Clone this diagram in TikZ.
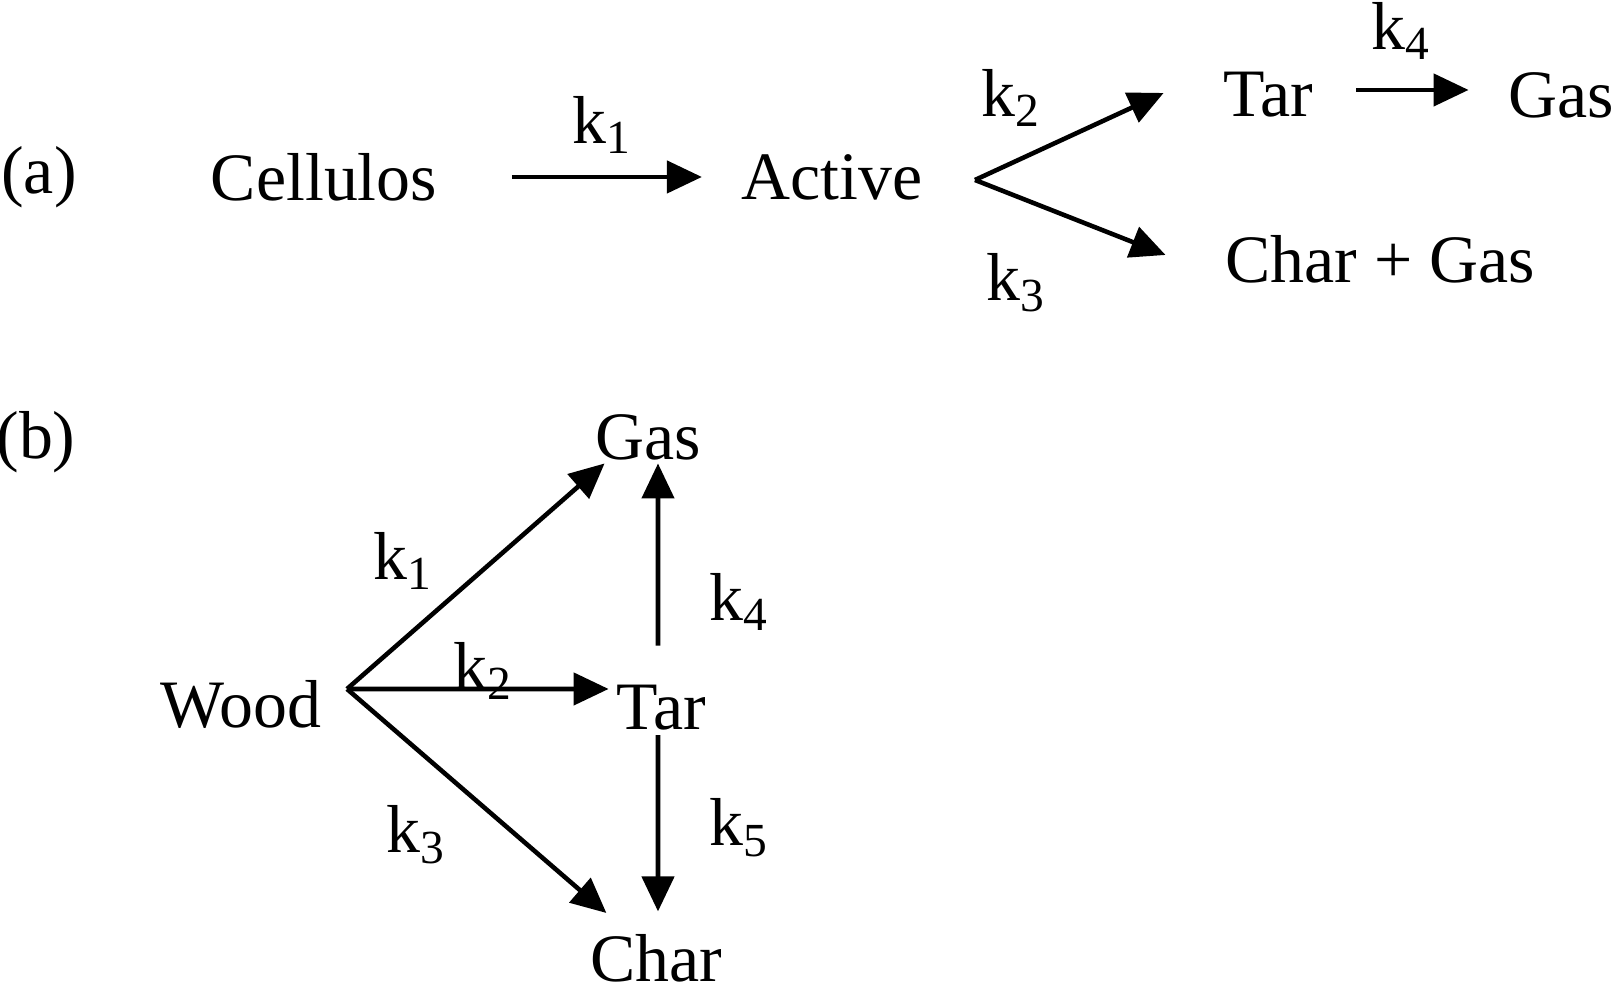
\documentclass[tikz,border=0pt]{standalone}
\usepackage{fontspec}
\setmainfont{Liberation Serif}
\usetikzlibrary{arrows.meta,positioning,calc}
\tikzset{
  arr/.style={-{Triangle[length=3.5mm,width=3.2mm]}, line width=1.3pt, black},
  spec/.style={inner sep=0pt, font=\fontsize{19.3}{23}\selectfont},
  rate/.style={inner sep=0pt, font=\fontsize{19.3}{23}\selectfont},
  tag/.style={inner sep=0pt, font=\fontsize{19.3}{23}\selectfont}
}

\begin{document}
\begin{tikzpicture}[x=1cm,y=1cm]
  \useasboundingbox (0,0) rectangle (16.13,10);
  % (a) cellulose scheme
  \node[tag] (taga) at (0.39,8.23) {(a)};
  \node[spec] (cell) at (3.24,8.23) {Cellulos};
  \node[spec] (act) at (8.32,8.23) {Active};
  \node[spec] (tara) at (12.68,9.05) {Tar};
  \node[spec] (gasa) at (15.61,9.05) {Gas};
  \node[spec] (chga) at (13.80,7.41) {Char + Gas};
  \coordinate (afork) at (9.75,8.20);
  \draw[arr] ([xshift=7.4mm]cell.east) -- ([xshift=-3.9mm]act.west);
  \draw[arr] (afork) -- ([xshift=-5.9mm,yshift=0.2mm]tara.west);
  \draw[arr] (afork) -- ([xshift=-5.9mm,yshift=0.4mm]chga.west);
  \draw[arr] ([xshift=4.3mm,yshift=0.5mm]tara.east) -- ([xshift=-3.9mm,yshift=0.5mm]gasa.west);
  \node[rate] (ka1) at (6.02,8.75) {k\textsubscript{1}};
  \node[rate] (ka2) at (10.11,9.02) {k\textsubscript{2}};
  \node[rate] (ka3) at (10.16,7.17) {k\textsubscript{3}};
  \node[rate] (ka4) at (14.01,9.69) {k\textsubscript{4}};
  % (b) wood scheme
  \node[tag] (tagb) at (0.36,5.58) {(b)};
  \node[spec] (wood) at (2.41,2.95) {Wood};
  \node[spec] (gasb) at (6.48,5.63) {Gas};
  \node[spec] (tarb) at (6.61,2.92) {Tar};
  \node[spec] (charb) at (6.56,0.42) {Char};
  \coordinate (bfork) at (3.47,3.11);
  \draw[arr] (bfork) -- ([xshift=1mm,yshift=-0.3mm]gasb.south west);
  \draw[arr] (bfork) -- ([xshift=-0.7mm,yshift=1.9mm]tarb.west);
  \draw[arr] (bfork) -- ([xshift=1.7mm,yshift=4.5mm]charb.west);
  \draw[arr] ([xshift=-0.3mm,yshift=3.9mm]tarb.north) -- ([xshift=1mm,yshift=-0.3mm]gasb.south);
  \draw[arr] ([xshift=-0.3mm,yshift=-0.4mm]tarb.south) -- ([xshift=0.2mm,yshift=2.2mm]charb.north);
  \node[rate] (kb1) at (4.03,4.39) {k\textsubscript{1}};
  \node[rate] (kb2) at (4.83,3.29) {k\textsubscript{2}};
  \node[rate] (kb3) at (4.16,1.65) {k\textsubscript{3}};
  \node[rate] (kb4) at (7.39,3.98) {k\textsubscript{4}};
  \node[rate] (kb5) at (7.39,1.72) {k\textsubscript{5}};
\end{tikzpicture}
\end{document}
